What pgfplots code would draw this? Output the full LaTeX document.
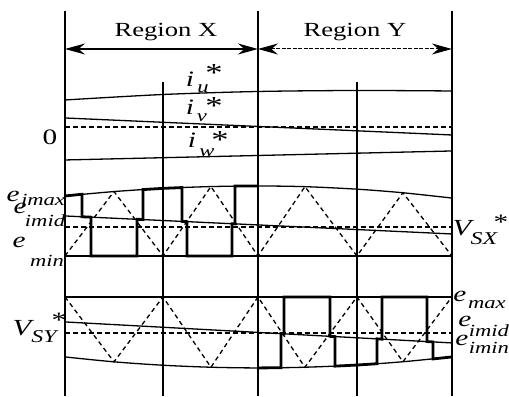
\documentclass[border=0pt]{standalone}
\usepackage{fontspec}
\setmainfont{Liberation Serif}[FakeStretch=1.33]
\usepackage{pgfplots}
\pgfplotsset{compat=1.18}
\usetikzlibrary{arrows.meta}

\newcommand{\fs}[1]{\fontsize{#1}{#1}\selectfont}

\begin{document}
\begin{tikzpicture}[
  thinline/.style={black, line width=1.3pt},
  pulse/.style={black, line width=2.8pt, line join=miter},
  carrier/.style={black, line width=1.3pt, dash pattern=on 4.5pt off 3.5pt},
  refline/.style={black, line width=1.3pt, dash pattern=on 5pt off 3pt},
  lab/.style={anchor=base, inner sep=0pt, outer sep=0pt}]
\begin{axis}[x=1pt, y=1pt, y dir=reverse,
  xmin=0, xmax=509, ymin=0, ymax=397,
  hide axis, clip=false,
  every axis plot/.append style={line join=miter, mark=none}]

% frame of the picture
\addplot[draw=none] coordinates {(0,0) (509,397)};

% time grid: region borders and carrier periods
\addplot[black, line width=1.5pt] coordinates {(65,11) (65,396)};
\addplot[black, line width=1.5pt] coordinates {(258,11) (258,396)};
\addplot[black, line width=1.5pt] coordinates {(452,11) (452,396)};
\addplot[black, line width=1.3pt] coordinates {(163,82) (163,396)};
\addplot[black, line width=1.3pt] coordinates {(357,82) (357,396)};

% region arrows
\addplot[black, line width=1.2pt, {Stealth[length=20pt,width=11pt]}-{Stealth[length=20pt,width=11pt]}]
  coordinates {(65,49) (258,49)};
\addplot[black, line width=1.0pt, dash pattern=on 4pt off 1.5pt, {Stealth[length=20pt,width=11pt]}-{Stealth[length=20pt,width=11pt]}]
  coordinates {(258,49) (452,49)};

% current references
\addplot[thinline, smooth] coordinates {(65,100) (163,94.5) (258,91.5) (357,90.5) (452,91)};
\addplot[thinline] coordinates {(65,118) (452,135)};
\addplot[thinline] coordinates {(65,160) (452,151)};
\addplot[refline] coordinates {(65,127) (452,127)};

% upper band: envelopes and reference
\addplot[thinline, smooth] coordinates {(65,196.0) (114,191.6) (163,188.4) (211,186.6) (258,186.0)
  (305,186.7) (357,189.2) (403,192.8) (452,198.1)};
\addplot[thinline] coordinates {(65,216) (452,234)};
\addplot[thinline] coordinates {(65,256) (452,256)};
\addplot[refline] coordinates {(65,227) (452,227)};

% upper band carrier
\addplot[carrier] coordinates {(65,256) (114,191.6) (163,256) (211,186.6) (258,256)
  (305,186.7) (357,256) (403,192.8) (452,256)};

% upper band output (region X)
\addplot[pulse] coordinates {(65,196.0) (82,194.3) (82,216.8) (91,217.2) (91,256) (137,256)
  (137,219.3) (143,219.6) (143,189.6) (163,188.4) (182,187.6) (182,221.4) (187,221.7)
  (187,256) (232,256) (232,223.8) (235,223.9) (235,186.1) (258,186.0)};

% lower band: envelopes and reference
\addplot[thinline] coordinates {(65,297) (452,297)};
\addplot[thinline] coordinates {(65,322) (452,343)};
\addplot[thinline, smooth] coordinates {(65,357) (114,361.9) (163,365.3) (211,367.3) (258,368)
  (305,367.3) (357,365.1) (403,361.8) (452,357)};
\addplot[refline] coordinates {(65,333) (452,333)};

% lower band carrier
\addplot[carrier] coordinates {(65,297) (114,361.9) (163,297) (211,367.3) (258,297)
  (305,367.3) (357,297) (403,361.8) (452,297)};

% lower band output (region Y)
\addplot[pulse] coordinates {(258,368) (281,367.8) (281,333.7) (284,333.9) (284,297) (330,297)
  (330,336.4) (335,336.7) (335,366.2) (357,365.1) (377,363.8) (377,338.9) (382,339.2)
  (382,297) (427,297) (427,341.6) (433,342.0) (433,359.0) (452,357)};

% labels
\node[lab, font=\fs{20}] at (axis cs:166,37) {Region X};
\node[lab, font=\fs{20}] at (axis cs:355,37) {Region Y};
\node[lab, font=\fs{22}] at (axis cs:50,145) {0};

% i_u*, i_v*, i_w*
\node[lab, font=\fs{22}\itshape] at (axis cs:190,87) {i};
\node[lab, font=\fs{17}\itshape] at (axis cs:203,93) {u};
\node[lab, font=\fs{26}] at (axis cs:214,82) {*};
\node[lab, font=\fs{22}\itshape] at (axis cs:190,115) {i};
\node[lab, font=\fs{17}\itshape] at (axis cs:202,122) {v};
\node[lab, font=\fs{26}] at (axis cs:214,115) {*};
\node[lab, font=\fs{22}\itshape] at (axis cs:192,148) {i};
\node[lab, font=\fs{17}\itshape] at (axis cs:207,157) {w};
\node[lab, font=\fs{26}] at (axis cs:220,149) {*};

% left labels
\node[lab, font=\fs{22}\itshape] at (axis cs:13,202) {e};
\node[lab, font=\fs{17}\itshape] at (axis cs:43,206) {jmax};
\node[lab, font=\fs{22}\itshape] at (axis cs:20,214) {e};
\node[lab, font=\fs{17}\itshape] at (axis cs:45,227) {imid};
\node[lab, font=\fs{22}\itshape] at (axis cs:19,248) {e};
\node[lab, font=\fs{17}\itshape] at (axis cs:47,267) {min};
\node[lab, font=\fs{23}\itshape] at (axis cs:22,336) {V};
\node[lab, font=\fs{18}\itshape] at (axis cs:44,343) {SY};
\node[lab, font=\fs{22}] at (axis cs:59,328) {*};

% right labels
\node[lab, font=\fs{23}\itshape] at (axis cs:462,236) {V};
\node[lab, font=\fs{18}\itshape] at (axis cs:484,245) {SX};
\node[lab, font=\fs{22}] at (axis cs:501,230) {*};
\node[lab, font=\fs{22}\itshape] at (axis cs:460,302) {e};
\node[lab, font=\fs{17}\itshape] at (axis cs:487,309) {max};
\node[lab, font=\fs{22}\itshape] at (axis cs:465,327) {e};
\node[lab, font=\fs{17}\itshape] at (axis cs:489,337) {imid};
\node[lab, font=\fs{22}\itshape] at (axis cs:462,346) {e};
\node[lab, font=\fs{17}\itshape] at (axis cs:489,354) {imin};
\end{axis}
\end{tikzpicture}
\end{document}
